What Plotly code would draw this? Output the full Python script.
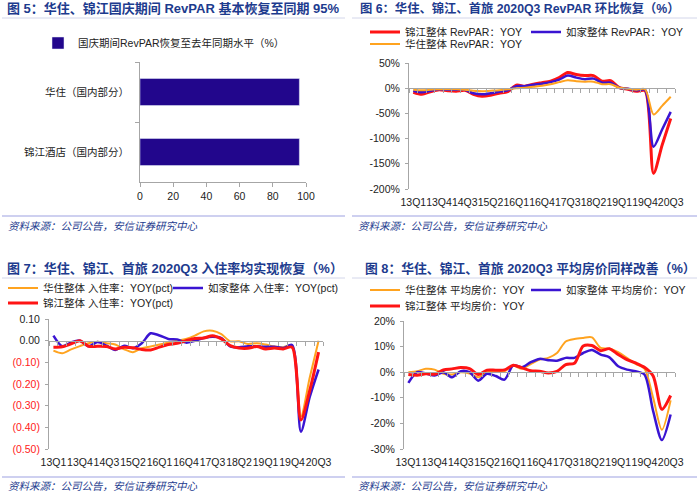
import plotly.graph_objects as go

W, H = 700, 493
FONT = "Liberation Sans, Noto Sans CJK SC, sans-serif"
RED = "#ff1414"
BLUE = "#3a14d2"
ORANGE = "#ffa31f"
BAR = "#22068c"
AXIS = "#a6a6a6"
TITLE_C = "#1d3b8e"

# ---------------- data ----------------
quarters = ['13Q1', '13Q2', '13Q3', '13Q4', '14Q1', '14Q2', '14Q3', '14Q4',
            '15Q1', '15Q2', '15Q3', '15Q4', '16Q1', '16Q2', '16Q3', '16Q4',
            '17Q1', '17Q2', '17Q3', '17Q4', '18Q1', '18Q2', '18Q3', '18Q4',
            '19Q1', '19Q2', '19Q3', '19Q4', '20Q1', '20Q2', '20Q3']
shown_ticks = ['13Q1', '13Q4', '14Q3', '15Q2', '16Q1', '16Q4', '17Q3', '18Q2', '19Q1', '19Q4', '20Q3']

bar_series = '国庆期间RevPAR恢复至去年同期水平（%）'
bar_categories = ['华住（国内部分）', '锦江酒店（国内部分）']
bar_values = [96, 96]

revpar_jinjiang = [-8, -12, -7, -3, -5, -6, -4, -12, -16, -14, -10, -7, 6, 4, 8, 11,
                   14, 21, 31, 27, 25, 25, 14, 15, 1, -2, -6, -5, -169, -113, -60]
revpar_rujia = [-5, -8, -5, -2, -3, -3, -3, -10, -12, -10, -7, -4, 4, 4, 7, 9,
                12, 17, 25, 21, 18, 19, 11, 11, 1, -1, -4, -3, -116, -82, -47]
revpar_huazhu = [-3, -4, -3, -2, -2, -2, -3, -5, -6, -5, -4, -2, 0, 1, 3, 5,
                 8, 12, 16, 14, 13, 13, 8, 8, 1, -1, -3, -2, -52, -35, -17]

occ_huazhu = [-0.046, -0.058, -0.040, -0.025, -0.012, -0.005, -0.012, -0.018, -0.040, -0.053,
              -0.035, -0.027, -0.018, -0.008, 0.000, 0.008, 0.023, 0.043, 0.046, 0.030,
              -0.003, -0.003, -0.015, -0.012, -0.018, -0.027, -0.030, -0.023, -0.350, -0.170, 0.000]
occ_rujia = [0.023, -0.026, -0.008, 0.000, -0.026, -0.006, -0.023, -0.043, -0.023, -0.035,
             -0.012, 0.034, 0.024, 0.008, 0.006, -0.009, 0.000, 0.012, 0.018, 0.012,
             -0.026, -0.030, -0.026, -0.026, -0.028, -0.028, -0.034, -0.020, -0.420, -0.260, -0.133]
occ_jinjiang = [-0.030, -0.028, -0.015, 0.000, -0.026, -0.026, -0.027, -0.038, -0.030, -0.033,
                -0.041, -0.043, -0.030, -0.018, -0.012, 0.000, 0.010, 0.012, 0.023, 0.008,
                -0.023, -0.034, -0.035, -0.027, -0.038, -0.034, -0.038, -0.030, -0.366, -0.230, -0.053]

adr_huazhu = [0.0, 0.4, 1.3, 1.0, -0.6, -0.9, 0.0, -0.5, -2.0, 0.0, 0.6, 0.4, 2.5, 1.3, 3.2, 4.9,
              5.6, 7.5, 12.0, 13.0, 13.4, 13.6, 9.5, 9.2, 7.8, 5.6, 3.2, 1.4, -10.0, -22.5, -11.0]
adr_rujia = [-4.2, 0.0, -0.5, -1.3, 0.0, -2.0, 0.4, 0.0, -3.3, -0.6, -1.5, -2.9, 2.7, 1.9, 3.9, 5.2,
             4.7, 4.5, 5.6, 5.6, 7.5, 8.7, 6.9, 5.8, 2.3, 1.0, 0.4, -0.9, -15.2, -26.5, -16.5]
adr_jinjiang = [-0.9, -1.2, -0.6, -0.8, 0.9, 1.3, 1.8, 1.4, -0.9, 0.8, 0.8, 0.9, 2.7, 1.7, 0.6, 0.4,
                -0.3, 0.3, 3.0, 3.5, 10.2, 10.4, 8.4, 9.2, 6.9, 4.9, 3.6, 1.9, -1.5, -14.5, -9.1]

titles = ['图 5：华住、锦江国庆期间 RevPAR 基本恢复至同期 95%',
          '图 6：华住、锦江、首旅 2020Q3 RevPAR 环比恢复（%）',
          '图 7：华住、锦江、首旅 2020Q3 入住率均实现恢复（%）',
          '图 8：华住、锦江、首旅 2020Q3 平均房价同样改善（%）']
source = '资料来源：公司公告，安信证券研究中心'

# ---------------- helpers ----------------
def px(x):
    return x / W

def py(y):
    return 1 - y / H

xi = list(range(len(quarters)))
tick_pos = [quarters.index(q) for q in shown_ticks]
boundaries = [i - 0.5 for i in range(len(quarters) + 1)]

fig = go.Figure()

# Panel 1: bars
fig.add_trace(go.Bar(y=bar_categories, x=bar_values, orientation='h', name=bar_series,
                     marker_color=BAR, width=0.45, xaxis='x', yaxis='y', legend='legend',
                     hoverinfo='skip'))

def add_lines(xa, ya, series):
    for name, vals, color, lw, leg in series:
        fig.add_trace(go.Scatter(x=xi, y=vals, mode='lines', name=name,
                                 line=dict(color=color, width=lw, shape='spline', smoothing=0.8),
                                 xaxis=xa, yaxis=ya, legend=leg, hoverinfo='skip'))

add_lines('x2', 'y2', [('锦江整体 RevPAR：YOY', revpar_jinjiang, RED, 3, 'legend2'),
                       ('如家整体 RevPAR：YOY', revpar_rujia, BLUE, 2.5, 'legend3'),
                       ('华住整体 RevPAR：YOY', revpar_huazhu, ORANGE, 2, 'legend4')])
add_lines('x3', 'y3', [('华住整体 入住率：YOY(pct)', occ_huazhu, ORANGE, 2, 'legend5'),
                       ('如家整体 入住率：YOY(pct)', occ_rujia, BLUE, 2.5, 'legend6'),
                       ('锦江整体 入住率：YOY(pct)', occ_jinjiang, RED, 3, 'legend7')])
add_lines('x4', 'y4', [('华住整体 平均房价：YOY', adr_huazhu, ORANGE, 2, 'legend8'),
                       ('如家整体 平均房价：YOY', adr_rujia, BLUE, 2.5, 'legend9'),
                       ('锦江整体 平均房价：YOY', adr_jinjiang, RED, 3, 'legend10')])

# dummy traces for zero-line axes
for xa, ya in [('x5', 'y2'), ('x6', 'y3'), ('x7', 'y4')]:
    fig.add_trace(go.Scatter(x=[None], y=[None], xaxis=xa, yaxis=ya, showlegend=False,
                             hoverinfo='skip'))

tickfont = dict(family=FONT, size=10.5, color='#222')

# panel geometry (pixels)
panels = {
    2: dict(x0=409, x1=675, y0=63, y1=189, rng=[-200, 50], dtick=50),
    3: dict(x0=49, x1=323, y0=319, y1=449, rng=[-0.5, 0.1], dtick=0.1),
    4: dict(x0=404, x1=675, y0=321, y1=449, rng=[-30, 20], dtick=10),
}

layout_axes = {}
# panel 1
layout_axes['xaxis'] = dict(domain=[px(140), px(306)], range=[0, 100], dtick=20, anchor='y',
                            showline=True, linecolor=AXIS, ticks='outside', ticklen=4,
                            tickcolor=AXIS, showgrid=False, zeroline=False, tickfont=tickfont,
                            automargin=False, ticklabelstandoff=0)
layout_axes['yaxis'] = dict(domain=[py(182), py(62)], anchor='x', type='category',
                            categoryorder='array', categoryarray=bar_categories,
                            autorange='reversed', showline=True, linecolor=AXIS,
                            ticks='outside', ticklen=4, tickcolor=AXIS, tickson='boundaries',
                            showgrid=False, tickfont=dict(family=FONT, size=10.5, color='#222'),
                            ticklabelstandoff=8, automargin=False)

def ylabels(p):
    r = p['rng']
    n = round((r[1] - r[0]) / p['dtick'])
    return [r[0] + k * p['dtick'] for k in range(n + 1)]

for k, zx in [(2, 5), (3, 6), (4, 7)]:
    p = panels[k]
    vals = ylabels(p)
    if k == 3:
        text = []
        for v in vals:
            if v < -1e-9:
                text.append('<span style="color:#ff2020">(%.2f)</span>' % abs(v))
            else:
                text.append('%.2f' % abs(v))
    else:
        text = ['%d%%' % round(v) for v in vals]
    layout_axes['xaxis%d' % k] = dict(domain=[px(p['x0']), px(p['x1'])], range=[-0.5, len(quarters) - 0.5],
                                      anchor='y%d' % k, tickvals=tick_pos, ticktext=shown_ticks,
                                      tickangle=0, ticks='', showline=False, showgrid=False,
                                      zeroline=False, tickfont=tickfont, ticklabelstandoff=5,
                                      automargin=False)
    layout_axes['yaxis%d' % k] = dict(domain=[py(p['y1']), py(p['y0'])], range=p['rng'],
                                      anchor='x%d' % k, tickvals=vals, ticktext=text,
                                      showline=True, linecolor=AXIS, ticks='outside', ticklen=3,
                                      tickcolor=AXIS, showgrid=False, zeroline=False,
                                      tickfont=tickfont, ticklabelstandoff=3, automargin=False)
    d0, d1 = py(p['y1']), py(p['y0'])
    zpos = d0 + (0 - p['rng'][0]) / (p['rng'][1] - p['rng'][0]) * (d1 - d0)
    layout_axes['xaxis%d' % zx] = dict(overlaying='x%d' % k, anchor='free', position=zpos,
                                       range=[-0.5, len(quarters) - 0.5], tickvals=boundaries,
                                       showticklabels=False, ticks='outside', ticklen=4,
                                       tickcolor=AXIS, showline=True, linecolor=AXIS,
                                       showgrid=False, zeroline=False, automargin=False)

legfont = dict(family=FONT, size=10.5, color='#222')

def leg(text_x, ypix, ew=None):
    # legend text begins about 40px right of the legend's left edge
    d = dict(x=px(text_x - 40), y=py(ypix), xanchor='left', yanchor='middle',
             orientation='h', font=legfont, bgcolor='rgba(0,0,0,0)', itemwidth=30)
    if ew:
        d['entrywidth'] = ew
    return d

legends = dict(
    legend=leg(78, 43),
    legend2=leg(405, 32, 140), legend3=leg(566, 32, 140), legend4=leg(405, 44, 140),
    legend5=leg(43, 288, 150), legend6=leg(208, 288, 150), legend7=leg(43, 303, 150),
    legend8=leg(405, 290, 140), legend9=leg(566, 290, 140), legend10=leg(405, 306, 140),
)

annotations = []
shapes = []
panel_boxes = [(0, 345, 9, 18, 216, 226), (350, 697, 9, 18, 216, 226),
               (0, 345, 268, 278, 477, 486), (350, 697, 268, 278, 477, 486)]
title_x = [5, 358, 5, 363]
title_size = [13, 12.3, 13, 12.8]
for t, (bx0, bx1, ty, tl, fl, fy), tx, ts in zip(titles, panel_boxes, title_x, title_size):
    annotations.append(dict(text='<b>%s</b>' % t, x=px(tx), y=py(ty), xref='paper', yref='paper',
                            xanchor='left', yanchor='middle', showarrow=False,
                            font=dict(family=FONT, size=ts, color=TITLE_C)))
    annotations.append(dict(text='<i>%s</i>' % source, x=px(bx0 + 6), y=py(fy), xref='paper',
                            yref='paper', xanchor='left', yanchor='middle', showarrow=False,
                            font=dict(family=FONT, size=10.5, color=TITLE_C)))
    shapes.append(dict(type='line', xref='paper', yref='paper', x0=px(bx0 + 2), x1=px(bx1),
                       y0=py(tl), y1=py(tl), line=dict(color='#d3d6ea', width=1)))
    shapes.append(dict(type='line', xref='paper', yref='paper', x0=px(bx0 + 2), x1=px(bx1),
                       y0=py(fl), y1=py(fl), line=dict(color='#9ea2e2', width=1.2)))

fig.update_layout(width=W, height=H, margin=dict(l=0, r=0, t=0, b=0, autoexpand=False),
                  paper_bgcolor='white', plot_bgcolor='white', showlegend=True,
                  font=dict(family=FONT, size=11, color='#222'),
                  annotations=annotations, shapes=shapes, **layout_axes, **legends)

fig.write_html('out.html', config={'displayModeBar': False},
               post_script="document.body.style.margin='0';document.body.style.overflow='hidden';")
